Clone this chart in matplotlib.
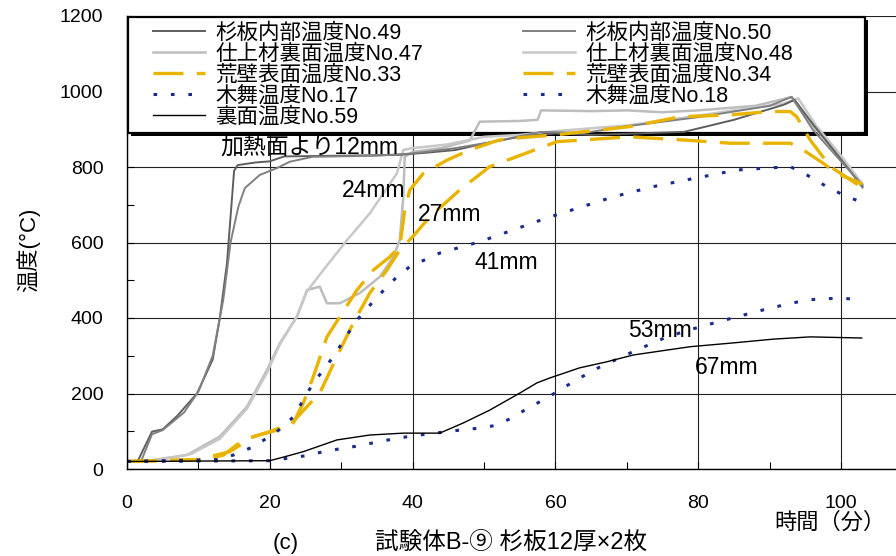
"""Temperature history of test specimen B-9 (cedar board 12 mm x 2)."""

import matplotlib
matplotlib.use("Agg")
from matplotlib import pyplot as plt
from matplotlib.patches import Rectangle
from matplotlib.ticker import MultipleLocator

plt.rcParams["font.family"] = ["Liberation Sans", "Noto Sans CJK JP"]

# ------------------------------------------------------------------ #
#  Data (time in min, temperature in deg C)
# ------------------------------------------------------------------ #
t49 = [0, 1.5, 2.5, 3.5, 5, 7, 9.8, 12, 13, 14, 15, 15.5, 18, 20, 22, 30, 38,
       42, 46, 50, 55, 60, 65, 70, 78, 85, 92, 93.5, 96, 100, 103]
T49 = [20, 21, 60, 99, 105, 140, 200, 290, 400, 545, 790, 805, 812, 815, 828,
       830, 832, 838, 845, 862, 880, 889, 885, 888, 893, 925, 965, 978, 915,
       820, 748]

t50 = [0, 2, 3.5, 5, 8, 10, 12, 13.5, 14.5, 15.6, 16.5, 18.6, 21, 22.8, 26,
       35, 40, 46, 51, 58, 64, 70, 80, 90, 93.1, 96, 100, 103]
T50 = [20, 22, 92, 103, 150, 205, 300, 450, 600, 695, 744, 779, 797, 814, 827,
       830, 836, 850, 866, 893, 890, 908, 932, 962, 986, 900, 815, 752]

t47 = [0, 3, 8.4, 13, 16.8, 19.6, 21.4, 23.8, 25.2, 27, 28, 29.8, 32.6, 35.4,
       37.3, 38.2, 38.7, 38.9, 40, 44, 48, 49.4, 55, 57.5, 58, 65, 70, 75, 80,
       88, 93, 96, 100, 103]
T47 = [20, 22, 37, 86, 165, 262, 333, 403, 474, 483, 439, 439, 466, 509, 562,
       606, 721, 827, 840, 850, 870, 920, 922, 925, 950, 948, 950, 945, 950,
       962, 985, 910, 825, 745]

t48 = [0, 4, 9, 13, 16.8, 19.6, 21.4, 23.8, 25.2, 27, 30.8, 34, 37.8, 38.7,
       40, 45, 50, 55, 60, 70, 76, 85, 92, 94, 96.5, 100, 103]
T48 = [20, 22, 40, 80, 160, 255, 330, 405, 470, 515, 606, 677, 783, 845, 850,
       860, 880, 885, 895, 910, 925, 950, 968, 982, 910, 830, 755]

t33 = [0, 10, 14.4, 17.7, 21, 23.3, 24.7, 26.1, 28, 29.8, 32.2, 34.5, 36.8,
       38.2, 38.9, 39.6, 41.5, 44.8, 48, 52, 54.6, 60, 70.4, 77.5, 84.5, 90,
       92.9, 93.8, 95.7, 98.5, 103]
T33 = [20, 25, 46, 86, 103, 122, 175, 245, 350, 403, 474, 527, 562, 589, 686,
       739, 783, 818, 845, 871, 877, 885, 907, 933, 938, 947, 947, 933, 871,
       801, 745]

t34 = [0, 11, 13.5, 16.3, 20, 23, 25.2, 27, 29.4, 31.7, 34, 36.4, 38.2, 40,
       42.4, 46.6, 50.8, 57.8, 60.2, 70.4, 78.4, 84.5, 92.9, 94.7, 97.5, 99.4,
       103]
T34 = [20, 25, 37, 77, 99, 120, 165, 201, 298, 387, 466, 527, 580, 615, 668,
       739, 801, 850, 867, 880, 871, 863, 863, 845, 810, 783, 755]

t17 = [0, 12.6, 14.9, 17.7, 21, 23.3, 26, 29, 32, 35, 37.8, 39.6, 43.8, 49.4,
       58.8, 68.1, 73.7, 78.4, 85.4, 92.9, 95.2, 98, 100.3, 102.7]
T17 = [20, 25, 37, 59, 99, 138, 225, 300, 390, 455, 509, 536, 572, 602, 665,
       721, 748, 766, 792, 801, 779, 748, 726, 708]

t18 = [0, 20, 25, 28, 32, 36, 40, 44, 46.6, 49.2, 51.5, 53.9, 56.2, 58.8, 61,
       63.4, 66, 70.9, 75.6, 80.3, 85.4, 90, 95.2, 99.9, 102.7]
T18 = [20, 22, 35, 48, 60, 75, 88, 97, 103, 108, 115, 135, 162, 188, 214, 241,
       268, 311, 350, 377, 403, 426, 448, 453, 448]

t59 = [0, 20, 22, 24.7, 29.4, 34, 38.7, 43.8, 47.1, 50.8, 55, 57.4, 59.2, 63.4,
       67.2, 70.9, 75.6, 78.9, 84.9, 90.5, 95.7, 102.9]
T59 = [20, 22, 32, 46, 77, 90, 95, 95, 122, 156, 201, 228, 241, 268, 284, 302,
       315, 324, 334, 344, 350, 347]

labels = {
    "49": "杉板内部温度No.49", "50": "杉板内部温度No.50",
    "47": "仕上材裏面温度No.47", "48": "仕上材裏面温度No.48",
    "33": "荒壁表面温度No.33", "34": "荒壁表面温度No.34",
    "17": "木舞温度No.17", "18": "木舞温度No.18",
    "59": "裏面温度No.59",
}

depth_notes = [
    ("加熱面より12mm", 13.0, 853),
    ("24mm", 30.1, 739),
    ("27mm", 40.8, 673),
    ("41mm", 48.6, 546),
    ("53mm", 70.2, 368),
    ("67mm", 79.5, 268),
]

# ------------------------------------------------------------------ #
#  Figure
# ------------------------------------------------------------------ #
fig = plt.figure(figsize=(8.96, 5.56), dpi=100)
ax = fig.add_axes([127 / 896, 87 / 556, 769 / 896, 453 / 556])

gold = "#e8b400"
navy = "#1c2a8c"
dash = (0, (9, 4))
dots = (0, (1.2, 4.5))

h49, = ax.plot(t49, T49, color="#5e5e5e", lw=1.4, label=labels["49"], zorder=2.2)
h50, = ax.plot(t50, T50, color="#808080", lw=1.4, label=labels["50"], zorder=2.2)
h47, = ax.plot(t47, T47, color="#bdbdbd", lw=1.8, label=labels["47"], zorder=2.1)
h48, = ax.plot(t48, T48, color="#c8c8c8", lw=1.8, label=labels["48"], zorder=2.1)
h33, = ax.plot(t33, T33, color=gold, lw=2.4, ls=dash, label=labels["33"], zorder=2.3)
h34, = ax.plot(t34, T34, color=gold, lw=2.4, ls=dash, label=labels["34"], zorder=2.3)
h17, = ax.plot(t17, T17, color=navy, lw=2.2, ls=dots, label=labels["17"], zorder=2.4)
h18, = ax.plot(t18, T18, color=navy, lw=2.2, ls=dots, label=labels["18"], zorder=2.4)
h59, = ax.plot(t59, T59, color="black", lw=1.0, label=labels["59"], zorder=2.4)

for text, x, y in depth_notes:
    ax.text(x, y, text, fontsize=16.5, va="center", ha="left", zorder=3)

ax.set_xlim(0, 107.7)
ax.set_ylim(0, 1200)
ax.xaxis.set_major_locator(MultipleLocator(20))
ax.xaxis.set_minor_locator(MultipleLocator(10))
ax.yaxis.set_major_locator(MultipleLocator(200))
ax.yaxis.set_minor_locator(MultipleLocator(100))
ax.set_axisbelow(True)
ax.grid(True, which="major", color="#222222", lw=0.8)
ax.tick_params(which="both", direction="in", length=5, width=0.8, labelsize=14)
ax.tick_params(axis="x", which="major", pad=19)
ax.tick_params(axis="y", which="major", pad=17)
for side in ("top", "right"):
    ax.spines[side].set_visible(False)
ax.spines["left"].set_linewidth(1.0)
ax.spines["bottom"].set_linewidth(1.0)

# legend box: white panel with a hard black drop shadow, drawn under the curves
box_x, box_y, box_w, box_h = 0.0013, 0.7417, 0.9584, 0.2561
ax.add_patch(Rectangle((box_x + 3 / 769, box_y - 3 / 453), box_w, box_h,
                       transform=ax.transAxes, facecolor="black",
                       edgecolor="none", clip_on=False, zorder=1.45))
ax.add_patch(Rectangle((box_x, box_y), box_w, box_h, transform=ax.transAxes,
                       facecolor="white", edgecolor="black", lw=1.6,
                       clip_on=False, zorder=1.5))

leg_kw = dict(loc="upper left", fontsize=15.5, frameon=False, borderaxespad=0,
              borderpad=0, handlelength=2.4, handletextpad=0.5, labelspacing=0.0)
leg1 = ax.legend(handles=[h49, h47, h33, h17, h59],
                 bbox_to_anchor=((153 - 127) / 769, (469 - 23) / 453), **leg_kw)
leg1.set_zorder(1.6)
ax.add_artist(leg1)
leg2 = ax.legend(handles=[h50, h48, h34, h18],
                 bbox_to_anchor=((523 - 127) / 769, (469 - 23) / 453), **leg_kw)
leg2.set_zorder(1.6)

fig.text(28 / 896, 1 - 250 / 556, "温度(°C)", rotation=90, fontsize=16,
         ha="center", va="center")
fig.text(830 / 896, 1 - 523 / 556, "時間（分）", fontsize=16,
         ha="center", va="center")
fig.text(286 / 896, 1 - 543 / 556, "(c)", fontsize=16, ha="center", va="center")
fig.text(511 / 896, 1 - 543 / 556, "試験体B-⑨ 杉板12厚×2枚", fontsize=17,
         ha="center", va="center")

fig.savefig("out.png", dpi=100)
